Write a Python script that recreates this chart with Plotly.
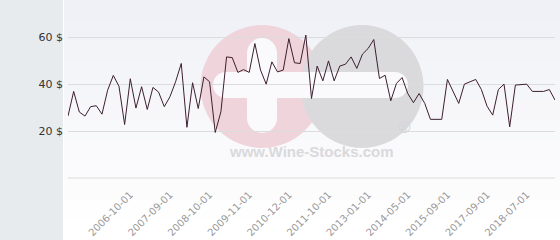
import plotly.graph_objects as go

dates = [
    "2005-05-01", "2005-06-01", "2005-08-01", "2005-09-01", "2005-11-01", "2005-12-01",
    "2006-02-01", "2006-03-01", "2006-05-01", "2006-06-01", "2006-08-01", "2006-10-01",
    "2006-11-01", "2007-01-01", "2007-02-01", "2007-04-01", "2007-05-01", "2007-07-01", "2007-09-01",
    "2007-10-01", "2007-12-01", "2008-02-01", "2008-04-01", "2008-06-01", "2008-08-01", "2008-10-01",
    "2008-12-01", "2009-02-01", "2009-04-01", "2009-06-01", "2009-08-01", "2009-10-01", "2009-11-01",
    "2010-01-01", "2010-03-01", "2010-05-01", "2010-07-01", "2010-09-01", "2010-11-01", "2010-12-01",
    "2011-01-01", "2011-03-01", "2011-04-01", "2011-06-01", "2011-07-01", "2011-09-01", "2011-10-01",
    "2011-12-01", "2012-02-01", "2012-04-01", "2012-06-01", "2012-08-01", "2012-10-01", "2013-01-01",
    "2013-03-01", "2013-05-01", "2013-08-01", "2013-10-01", "2013-12-01", "2014-03-01", "2014-05-01",
    "2014-07-01", "2014-09-01", "2014-11-01", "2015-01-01", "2015-04-01", "2015-06-01", "2015-09-01",
    "2015-12-01", "2016-03-01", "2016-06-01", "2016-09-01", "2016-12-01", "2017-04-01", "2017-09-01",
    "2017-10-01", "2017-12-01", "2018-01-01", "2018-03-01", "2018-04-01", "2018-06-01", "2018-07-01",
    "2018-09-01", "2018-11-01", "2019-01-01", "2019-03-01", "2019-05-01",
]

prices = [
    26.4, 36.9, 28.1, 26.4, 30.4, 30.8, 27.2, 37.4, 43.7, 39.1, 22.8, 42.3,
    29.8, 38.9, 29.2, 38.6, 36.6, 30.4, 34.6, 41.0, 48.8, 21.6, 40.6, 29.6,
    43.1, 41.0, 19.4, 28.2, 51.6, 51.3, 45.0, 46.2, 45.0, 57.3, 46.0, 40.0,
    49.5, 45.2, 46.0, 59.4, 49.1, 48.8, 60.9, 33.9, 47.7, 41.4, 49.9, 41.4,
    47.7, 48.5, 51.6, 46.7, 52.8, 55.2, 59.0, 42.4, 43.8, 32.9, 40.3, 42.8,
    36.0, 32.1, 36.0, 31.8, 25.0, 25.0, 25.0, 42.0, 37.0, 31.8, 40.0, 41.0,
    42.0, 37.7, 30.6, 26.8, 37.7, 40.0, 21.8, 39.6, 39.8, 40.0, 36.9, 36.9,
    36.9, 37.7, 33.2,
]

x_tick_labels = [
    "2006-10-01", "2007-09-01", "2008-10-01", "2009-11-01", "2010-12-01",
    "2011-10-01", "2013-01-01", "2014-05-01", "2015-09-01", "2017-09-01", "2018-07-01",
]

y_tick_values = [0, 20, 40, 60]
y_tick_labels = ["", "20 $", "40 $", "60 $"]

W, H = 560, 240
ML, MR, MT, MB = 68, 5, 2, 62
PW, PH = W - ML - MR, H - MT - MB


def px(x):
    return (x - ML) / PW


def py(y):
    return (H - MB - y) / PH


shapes = []
# left grey strip
shapes.append(dict(type="rect", xref="paper", yref="paper", x0=px(0), x1=px(63),
                   y0=py(H), y1=py(0), fillcolor="#e7ebee", line_width=0, layer="below"))
# gradient background of the plot panel
nb = 12
c0 = (240, 241, 246)
c1 = (255, 255, 255)
for i in range(nb):
    t = i / (nb - 1)
    col = tuple(round(c0[k] + (c1[k] - c0[k]) * t) for k in range(3))
    shapes.append(dict(type="rect", xref="paper", yref="paper",
                       x0=px(64), x1=px(W), y0=py(H * (i + 1) / nb), y1=py(H * i / nb),
                       fillcolor="rgb(%d,%d,%d)" % col, line_width=0, layer="below"))


def circ(cx, cy, r, color):
    shapes.append(dict(type="circle", xref="paper", yref="paper",
                       x0=px(cx - r), x1=px(cx + r), y0=py(cy + r), y1=py(cy - r),
                       fillcolor=color, line_width=0, layer="below"))


def rect(x0, x1, y0, y1, color):
    shapes.append(dict(type="rect", xref="paper", yref="paper",
                       x0=px(x0), x1=px(x1), y0=py(y1), y1=py(y0),
                       fillcolor=color, line_width=0, layer="below"))


# watermark logo
circ(262, 86.5, 61.5, "#efd4db")
circ(362, 86.5, 61.5, "#dadadc")
wc = "#fafafc"
rect(247, 277, 53, 118, wc)
circ(262, 53, 15, wc)
circ(262, 118, 15, wc)
rect(226, 395, 72, 98, wc)
circ(226, 85, 13, wc)
circ(395, 85, 13, wc)

# baseline gridline at 0 (drawn as a shape so it is not dropped at the axis edge)
shapes.append(dict(type="line", xref="paper", yref="paper", x0=0, x1=1, y0=0, y1=0,
                   line=dict(color="#dcdcdc", width=1), layer="below"))

fig = go.Figure()
fig.add_trace(go.Scatter(
    x=dates, y=prices, mode="lines",
    line=dict(color="#3d1f2e", width=1),
    hoverinfo="x+y", showlegend=False,
))

fig.update_layout(
    width=W, height=H,
    margin=dict(l=ML, r=MR, t=MT, b=MB),
    paper_bgcolor="#ffffff",
    plot_bgcolor="rgba(0,0,0,0)",
    font=dict(family="DejaVu Sans", size=11, color="#333333"),
    shapes=shapes,
    annotations=[
        dict(text="www.Wine-Stocks.com", xref="paper", yref="paper",
             x=px(311), y=py(162), showarrow=False,
             font=dict(family="Liberation Sans", size=15, color="#d9d9db", weight="bold")),
        dict(text="®", xref="paper", yref="paper",
             x=px(413), y=py(139), showarrow=False,
             font=dict(family="Liberation Sans", size=17, color="#d6d6d8", weight="bold")),
    ],
)
fig.update_xaxes(
    type="category", range=[0, len(dates) - 1],
    tickmode="array", tickvals=x_tick_labels, ticktext=x_tick_labels,
    tickangle=-45, tickfont=dict(size=10, color="#999999"),
    showgrid=False, zeroline=False, showline=False,
    ticks="outside", ticklen=6, tickcolor="rgba(0,0,0,0)",
)
fig.update_yaxes(
    range=[0, 75], tickmode="array", tickvals=y_tick_values, ticktext=y_tick_labels,
    showgrid=True, gridcolor="#dcdcdc", gridwidth=1, zeroline=False, showline=False,
    tickfont=dict(size=11, color="#333333"), ticks="", ticklabelstandoff=4,
)

fig.write_html("out.html")
